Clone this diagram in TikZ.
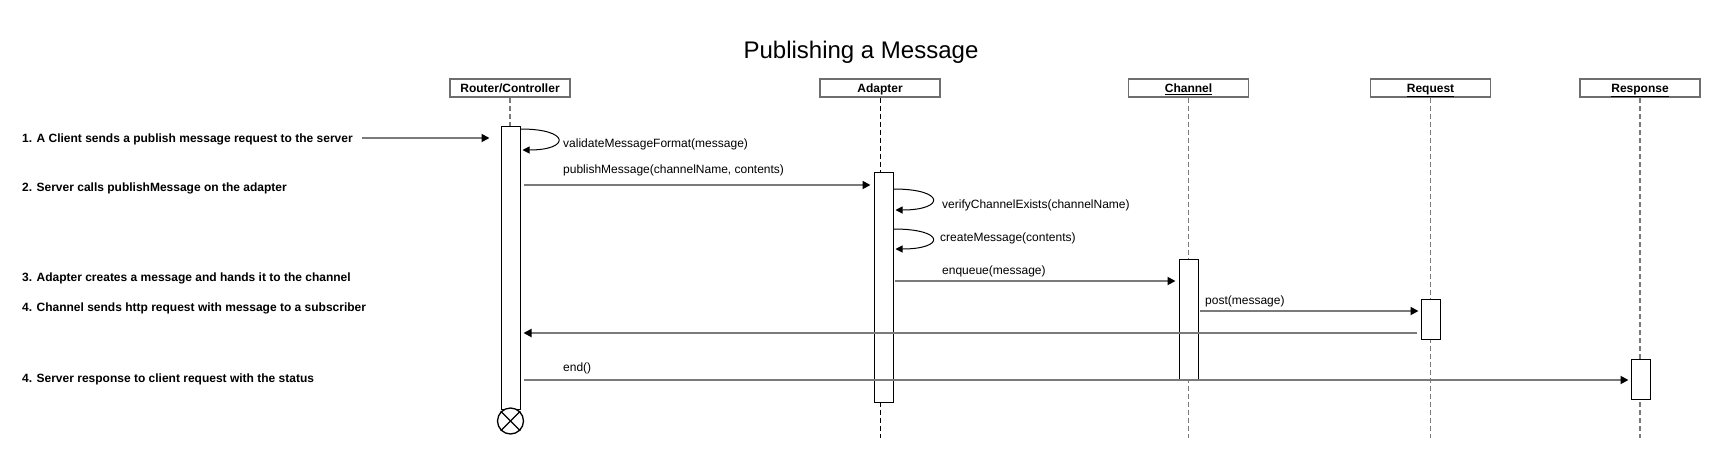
\documentclass[tikz,border=0pt]{standalone}
\usepackage{fontspec}
\setmainfont{Liberation Sans}
\usetikzlibrary{arrows.meta,calc}
\definecolor{lg}{HTML}{7A7A7A}
\definecolor{bd}{HTML}{6E6E6E}
\begin{document}
\begin{tikzpicture}[x=1pt,y=-1pt,
  hdr/.style={draw=bd, line width=1.5pt, fill=white, minimum width=120pt, minimum height=18pt, inner sep=0pt, text height=10.5pt, text depth=2pt, font=\fontsize{12}{14}\selectfont\bfseries},
  actbar/.style={draw=black, line width=1pt, fill=white, minimum width=19pt, inner sep=0pt},
  msg/.style={draw=lg, line width=1.8pt, -{Triangle[length=8pt,width=8pt,color=black]}},
  selfcall/.style={draw=black, line width=1pt, -{Triangle[length=7pt,width=7pt]}},
  lbl/.style={font=\fontsize{12}{14}\selectfont, anchor=base west, inner sep=0pt},
  note/.style={font=\fontsize{12}{14}\selectfont\bfseries, anchor=base west, inner sep=0pt},
  lifeg/.style={draw=lg, line width=1.7pt, dash pattern=on 5pt off 3pt},
  lifeb/.style={draw=black, line width=1pt, dash pattern=on 5pt off 3pt}
]
\useasboundingbox (0,0) rectangle (1722,459);

% title
\node[font=\fontsize{24}{28}\selectfont, anchor=base, inner sep=0pt] (title) at (861,58) {Publishing a Message};

% headers
\node[hdr] (rh) at (510,88) {Router/Controller};
\node[hdr] (ah) at (880,88) {Adapter};
\node[hdr] (ch) at (1188.5,88) {\underline{Channel}};
\node[hdr] (qh) at (1430.5,88) {\underline{Request}};
\node[hdr] (sh) at (1640,88) {\underline{Response}};

% lifelines
\draw[lifeg] (rh.south) -- (rh.south |- 0,409);
\draw[lifeb] (ah.south) -- (ah.south |- 0,438);
\draw[lifeg] (ch.south) -- (ch.south |- 0,438);
\draw[lifeg] (qh.south) -- (qh.south |- 0,438);
\draw[lifeg] (sh.south) -- (sh.south |- 0,438);

% activation bars
\node[actbar, minimum height=283pt] (rbar) at (510.5,267.5) {};
\node[actbar, minimum height=230pt] (abar) at (883.5,287) {};
\node[actbar, minimum height=120pt] (cbar) at (1188.5,319) {};
\node[actbar, minimum height=40pt] (qbar) at (1430.5,319) {};
\node[actbar, minimum height=40pt] (sbar) at (1640.5,379) {};

% destroy
\node[circle, draw=black, line width=1.3pt, fill=white, minimum size=26pt, inner sep=0pt] (rx) at (510.5,421) {};
\draw[line width=1.3pt] (rx.north west) -- (rx.south east);
\draw[line width=1.3pt] (rx.north east) -- (rx.south west);

% notes
\node[note] (n1) at (22,142) {1. A Client sends a publish message request to the server};
\node[note] (n2) at (22,191) {2. Server calls publishMessage on the adapter};
\node[note] (n3) at (22,281) {3. Adapter creates a message and hands it to the channel};
\node[note] (n4) at (22,311) {4. Channel sends http request with message to a subscriber};
\node[note] (n5) at (22,382) {4. Server response to client request with the status};

% messages
\coordinate (client) at (362,138);
\draw[msg] (client) -- ([xshift=-11pt]rbar.west |- client);

\draw[selfcall] (rbar.east |- 0,129) .. controls +(50,0) and +(48,0) .. ([xshift=2pt]rbar.east |- 0,150);
\node[lbl] (l1) at (563,147) {validateMessageFormat(message)};

\draw[msg] ([xshift=3pt]rbar.east |- 0,185) -- ([xshift=-3pt]abar.west |- 0,185);
\node[lbl] (l2) at (563,173) {publishMessage(channelName, contents)};

\draw[selfcall] (abar.east |- 0,189) .. controls +(52,0) and +(50,0) .. ([xshift=2pt]abar.east |- 0,210);
\node[lbl] (l3) at (942,208) {verifyChannelExists(channelName)};

\draw[selfcall] (abar.east |- 0,229) .. controls +(52,0) and +(50,0) .. ([xshift=2pt]abar.east |- 0,249);
\node[lbl] (l4) at (940,241) {createMessage(contents)};

\draw[msg] ([xshift=1pt]abar.east |- 0,281) -- ([xshift=-3pt]cbar.west |- 0,281);
\node[lbl] (l5) at (942,274) {enqueue(message)};

\draw[msg] ([xshift=1pt]cbar.east |- 0,311) -- ([xshift=-2pt]qbar.west |- 0,311);
\node[lbl] (l6) at (1205,304) {post(message)};

\draw[msg] ([xshift=-4pt]qbar.west |- 0,333) -- ([xshift=3pt]rbar.east |- 0,333);

\draw[msg] ([xshift=3pt]rbar.east |- 0,380) -- ([xshift=-2pt]sbar.west |- 0,380);
\node[lbl] (l7) at (563,371) {end()};
\end{tikzpicture}
\end{document}
